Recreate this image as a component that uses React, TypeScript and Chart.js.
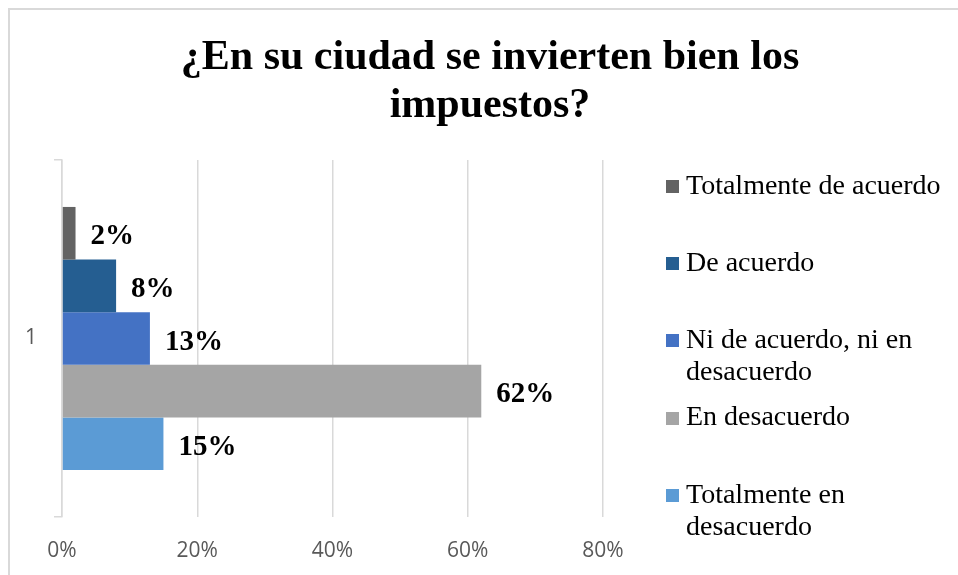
import React, { useEffect, useRef } from "react";
import { Chart, registerables } from "chart.js";

Chart.register(...registerables);

// ---- data ----
const categories = ["1"];
const seriesNames = [
  "Totalmente de acuerdo",
  "De acuerdo",
  "Ni de acuerdo, ni en desacuerdo",
  "En desacuerdo",
  "Totalmente en desacuerdo",
];
const totalmenteDeAcuerdo = [2];
const deAcuerdo = [8];
const niDeAcuerdoNiEnDesacuerdo = [13];
const enDesacuerdo = [62];
const totalmenteEnDesacuerdo = [15];
const seriesValues = [
  totalmenteDeAcuerdo,
  deAcuerdo,
  niDeAcuerdoNiEnDesacuerdo,
  enDesacuerdo,
  totalmenteEnDesacuerdo,
];
const xTickValues = [0, 20, 40, 60, 80];
const titleText = "¿En su ciudad se invierten bien los impuestos?";

// ---- styles ----
const seriesColors = ["#636363", "#255E91", "#4472C4", "#A5A5A5", "#5B9BD5"];
const SERIF = "'Liberation Serif', 'Times New Roman', serif";
const AXIS_FONT = "'Open Sans', sans-serif";

const valueLabels = {
  id: "valueLabels",
  afterDatasetsDraw(chart: any) {
    const ctx = chart.ctx;
    ctx.save();
    ctx.font = `bold 29px ${SERIF}`;
    ctx.fillStyle = "#000000";
    ctx.textAlign = "left";
    ctx.textBaseline = "alphabetic";
    chart.data.datasets.forEach((ds: any, i: number) => {
      const meta = chart.getDatasetMeta(i);
      meta.data.forEach((bar: any, j: number) => {
        ctx.fillText(`${ds.data[j]}%`, bar.x + 15, bar.y + 11);
      });
    });
    ctx.restore();
  },
};

export default function App() {
  const canvasRef = useRef<HTMLCanvasElement | null>(null);

  useEffect(() => {
    if (!canvasRef.current) return;
    const chart = new Chart(canvasRef.current, {
      type: "bar",
      data: {
        labels: categories,
        datasets: seriesNames.map((name, i) => ({
          label: name,
          data: seriesValues[i],
          backgroundColor: seriesColors[i],
          borderWidth: 0,
          barPercentage: 1,
          categoryPercentage: 0.737,
        })),
      },
      options: {
        indexAxis: "y",
        responsive: false,
        animation: false,
        devicePixelRatio: 1,
        layout: { padding: { top: 160, right: 355, left: 0, bottom: 0 } },
        plugins: {
          legend: { display: false },
          title: { display: false },
          tooltip: { enabled: false },
        },
        scales: {
          x: {
            type: "linear",
            min: 0,
            max: 80,
            afterBuildTicks: (scale: any) => {
              scale.ticks = xTickValues.map((v) => ({ value: v }));
            },
            afterFit: (scale: any) => {
              scale.height = 58;
            },
            grid: {
              color: "#d9d9d9",
              lineWidth: 1.5,
              drawTicks: false,
            },
            border: { display: false },
            ticks: {
              callback: (v: any) => `${v}%`,
              color: "#595959",
              font: { family: AXIS_FONT, size: 21 },
              padding: 21,
              maxRotation: 0,
              autoSkip: false,
            },
          },
          y: {
            type: "category",
            afterFit: (scale: any) => {
              scale.width = 62;
            },
            grid: {
              drawOnChartArea: false,
              drawTicks: true,
              tickLength: 8,
              color: "#d9d9d9",
              lineWidth: 1.5,
            },
            border: { display: true, color: "#d9d9d9", width: 1.5 },
            ticks: {
              color: "#595959",
              font: { family: AXIS_FONT, size: 21 },
              padding: 17,
            },
          },
        },
      },
      plugins: [valueLabels],
    });
    return () => chart.destroy();
  }, []);

  const legendTop0 = 168.8;
  const legendPitch = 77.2;

  return (
    <div
      style={{
        position: "fixed",
        left: 0,
        top: 0,
        width: 958,
        height: 575,
        overflow: "hidden",
        background: "#ffffff",
      }}
    >
      <div
        style={{
          position: "absolute",
          left: 8,
          top: 8,
          width: 1000,
          height: 1000,
          border: "2px solid #d9d9d9",
          boxSizing: "border-box",
        }}
      />
      <canvas
        ref={canvasRef}
        width={958}
        height={575}
        style={{ position: "absolute", left: 0, top: 0, width: 958, height: 575, display: "block" }}
      />
      <div
        style={{
          position: "absolute",
          left: 140,
          top: 31.1,
          width: 700,
          textAlign: "center",
          fontFamily: SERIF,
          fontWeight: "bold",
          fontSize: 42,
          lineHeight: "48px",
          color: "#000",
        }}
      >
        {titleText}
      </div>
      {seriesNames.map((name, i) => (
        <div
          key={name}
          style={{
            position: "absolute",
            left: 666,
            top: legendTop0 + legendPitch * i,
            width: 285,
          }}
        >
          <div
            style={{
              position: "absolute",
              left: 0,
              top: 11.2,
              width: 13,
              height: 13,
              background: seriesColors[i],
            }}
          />
          <div
            style={{
              position: "absolute",
              left: 20,
              top: 0,
              width: 265,
              fontFamily: SERIF,
              fontSize: 28,
              lineHeight: "32px",
              color: "#000",
            }}
          >
            {name}
          </div>
        </div>
      ))}
    </div>
  );
}
